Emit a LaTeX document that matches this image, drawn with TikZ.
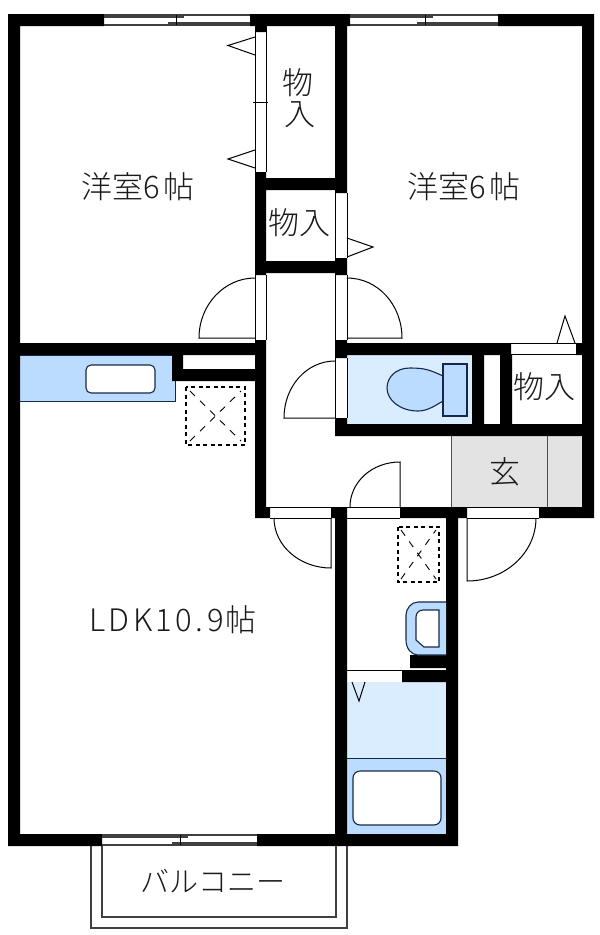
\documentclass[tikz,border=0pt]{standalone}
\usepackage{fontspec}
\setmainfont{Noto Sans CJK JP}[UprightFont=* Light]
\definecolor{ink}{HTML}{1A1A1A}
\definecolor{navy}{HTML}{14284B}
\definecolor{pale}{HTML}{D9EDFF}
\definecolor{mid}{HTML}{BBDCFF}
\definecolor{entry}{HTML}{E3E3E3}
\tikzset{
  wall/.style={fill=black,draw=none},
  thin line/.style={draw=black,line width=0.9pt},
  grey line/.style={draw=black!75,line width=1.1pt},
  balcony/.style={draw=black!75,line width=1.5pt},
  swing/.style={draw=black,line width=1pt},
  outline/.style={draw=navy,line width=1.1pt},
  dash box/.style={draw=black,line width=1.1pt,dash pattern=on 4pt off 3.5pt},
  dash cross/.style={draw=black,line width=0.9pt,dash pattern=on 7pt off 7pt},
  label/.style={inner sep=0pt,text=ink,font=\fontsize{31}{34}\selectfont}
}
\begin{document}
\begin{tikzpicture}[x=1pt,y=-1pt]
\useasboundingbox (0,0) rectangle (600,935);
\fill[white] (0,0) rectangle (600,935);
% fills
\fill[entry] (451,436) rectangle (582,507);
\fill[pale] (347,355) rectangle (472,424);
\fill[pale] (347,682) rectangle (446,758);
\fill[mid] (347,758) rectangle (446,834);
\draw[draw=navy,line width=1pt,fill=mid] (20,355) -- (175,355) -- (175,401) -- (20,401);
\draw[draw=black!70,line width=0.8pt] (451,436) -- (451,507) (547,436) -- (547,507);
\draw[navy,line width=0.9pt] (347,758) -- (446,758);
% walls
\path[wall] (8,14) rectangle (104,26)
  (250,14) rectangle (350,26)
  (498,14) rectangle (594,26)
  (8,14) rectangle (20,846)
  (582,14) rectangle (594,518)
  (8,834) rectangle (102,846)
  (257,834) rectangle (458,846)
  (255,26) rectangle (266,32)
  (335,14) rectangle (347,193)
  (255,172) rectangle (266,275)
  (266,178) rectangle (335,190)
  (266,261) rectangle (347,273)
  (335,258) rectangle (347,275)
  (255,340) rectangle (266,518)
  (255,507) rectangle (270,518)
  (20,343) rectangle (266,355)
  (172,355) rectangle (183,381)
  (172,369) rectangle (255,381)
  (335,340) rectangle (347,358)
  (335,343) rectangle (511,355)
  (576,343) rectangle (582,355)
  (335,418) rectangle (347,436)
  (335,424) rectangle (594,436)
  (472,355) rectangle (484,424)
  (500,355) rectangle (512,424)
  (331,507) rectangle (347,518)
  (335,507) rectangle (347,846)
  (400,507) rectangle (467,518)
  (446,507) rectangle (458,846)
  (539,507) rectangle (594,518)
  (410,655) rectangle (446,668)
  (402,670) rectangle (446,682);
% windows
\foreach \xa/\xb/\xm/\ya in {104/250/176/15, 350/498/425/15, 102/257/180/835}{
  \draw[grey line] (\xa,\ya) -- (\xb,\ya) (\xa,\ya+10) -- (\xb,\ya+10);
  \draw[grey line] (\xa,\ya+2) -- (\xm+8,\ya+2) (\xm-8,\ya+8) -- (\xb,\ya+8);
  \draw[thin line] (\xm,\ya) -- (\xm,\ya+10);
}
% openings
\draw[thin line] (255,32) -- (255,172) (266,26) -- (266,172) (253,102) -- (268,102);
\draw[thin line] (335,193) -- (335,258) (347,193) -- (347,258);
\draw[thin line] (255,275) -- (255,340) (266,275) -- (266,340);
\draw[thin line] (335,275) -- (335,340) (347,275) -- (347,340);
\draw[thin line] (335,358) -- (335,418) (347,358) -- (347,418);
\draw[thin line] (511,343) -- (576,343) (511,354.5) -- (576,354.5);
\draw[thin line] (270,507) -- (331,507) (270,518) -- (331,518);
\draw[thin line] (347,507) -- (400,507) (347,518) -- (400,518);
\draw[thin line] (467,507) -- (539,507) (467,518) -- (539,518);
\draw[thin line] (347,670) -- (402,670);
% closet door triangles
\draw[swing] (255,37) -- (228,45.5) -- (255,55);
\draw[swing] (255,150) -- (228,159) -- (255,168);
\draw[swing] (347,238) -- (373,247) -- (347,257);
\draw[swing] (557,343) -- (565,316) -- (575,343);
\draw[swing] (352,682) -- (359,701) -- (365,682);
% swing doors
\draw[swing] (255,278) .. controls (224,278) and (199,305) .. (199,338) -- (255,338);
\draw[swing] (347,278) .. controls (378,278) and (402,305) .. (402,338) -- (347,338);
\draw[swing] (335,361) .. controls (307,361) and (284,386) .. (284,418) -- (335,418);
\draw[swing] (274,518) .. controls (274,546) and (300,568) .. (331,568) -- (331,518);
\draw[swing] (350,507) .. controls (350,482) and (372,462) .. (400,462) -- (400,507);
\draw[swing] (536,518) .. controls (536,553) and (505,581) .. (467,581) -- (467,518);
% sink
\draw[outline,fill=white,rounded corners=5pt] (86,365) rectangle (155,393);
% floor drains (dashed squares)
\draw[dash box] (186,387) rectangle (245,445);
\draw[dash cross] (190,441) -- (241,391) (190,391) -- (241,441);
\draw[dash box] (398,527) rectangle (439,582);
\draw[dash cross] (401,579) -- (436,530) (401,530) -- (436,579);
% toilet
\draw[outline,fill=mid] (443,376) .. controls (430,370) and (425,368) .. (410,368)
  .. controls (395,368) and (387,378) .. (387,388)
  .. controls (387,400) and (400,411) .. (418,411)
  .. controls (428,411) and (436,405) .. (443,401) -- cycle;
\draw[outline,fill=mid] (443,364) rectangle (467,416);
% wash basin
\draw[outline,fill=mid] (446,602) -- (418,602) .. controls (411,602) and (406,609) .. (406,615)
  -- (406,640) .. controls (406,648) and (411,655) .. (418,655) -- (446,655);
\draw[outline,fill=white] (439,610) -- (423,610) .. controls (419,610) and (416,613) .. (416,617)
  -- (416,640) -- (424,647) -- (439,647) -- cycle;
% bath tub
\draw[outline,fill=white,rounded corners=7pt] (353,771) rectangle (441,825);
% balcony
\draw[balcony] (91,846) -- (91,928) -- (347,928) -- (347,846);
\draw[balcony] (102,846) -- (102,917) -- (336,917) -- (336,846);
% labels
\node[label] (roomA) at (138,187) {洋室6\kern4pt 帖};
\node[label] (roomB) at (464,187) {洋室6\kern4pt 帖};
\node[label] (closetA1) at (298,83) {物};
\node[label] (closetA2) at (300,115) {入};
\node[label] (closetB) at (299,223) {物入};
\node[label] (closetC) at (544,387) {物入};
\node[label] (genkan) at (505,472) {玄};
\node[label] (ldk) at (173,620) {\addfontfeature{LetterSpace=11}LDK10.9\kern2pt 帖};
\node[label,font=\fontsize{29}{32}\selectfont] (balc) at (213,881) {バルコニー};
\end{tikzpicture}
\end{document}
